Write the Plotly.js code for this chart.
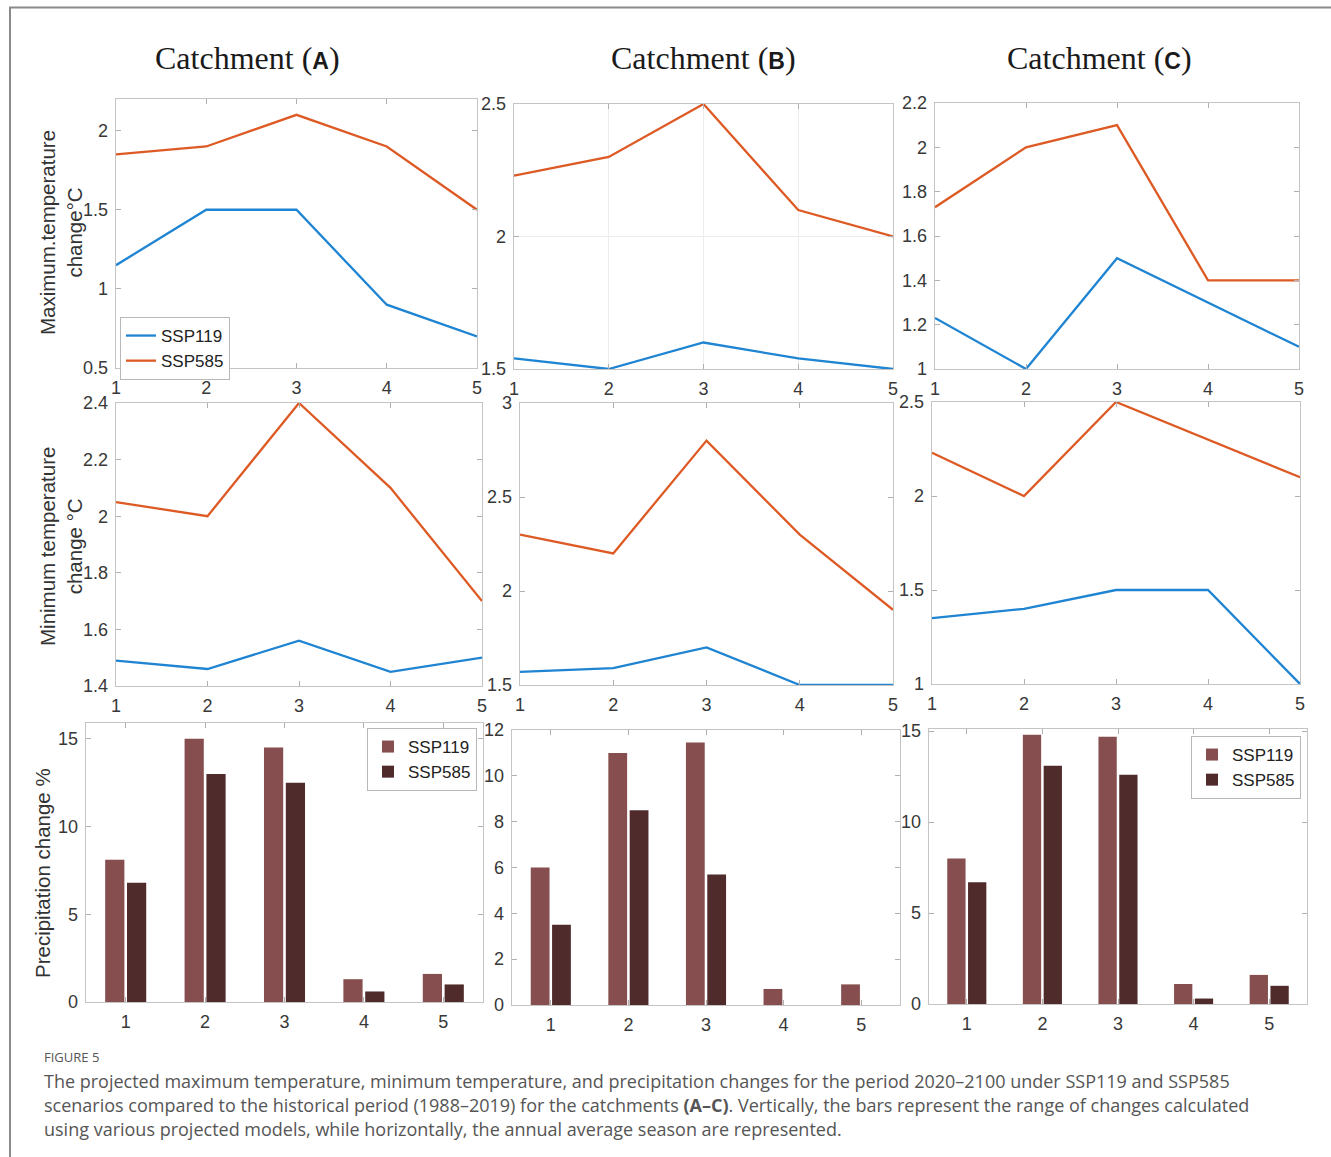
<!DOCTYPE html>
<html>
<head>
<meta charset="utf-8">
<script src="https://cdn.plot.ly/plotly-3.0.1.min.js"></script>
<style>html,body{margin:0;padding:0;background:#fff;}#chart{width:1331px;height:1157px;}</style>
</head>
<body>
<div id="chart"></div>
<script>
// ---------- data ----------
const seasons = [1, 2, 3, 4, 5];
const seriesNames = ['SSP119', 'SSP585'];
const catchmentTitles = ['A', 'B', 'C'];

// Maximum temperature change (°C)
const maxA_ssp119 = [1.15, 1.5, 1.5, 0.9, 0.7];
const maxA_ssp585 = [1.85, 1.9, 2.1, 1.9, 1.5];
const maxB_ssp119 = [1.54, 1.5, 1.6, 1.54, 1.5];
const maxB_ssp585 = [2.23, 2.3, 2.5, 2.1, 2.0];
const maxC_ssp119 = [1.23, 1.0, 1.5, 1.3, 1.1];
const maxC_ssp585 = [1.73, 2.0, 2.1, 1.4, 1.4];

// Minimum temperature change (°C)
const minA_ssp119 = [1.49, 1.46, 1.56, 1.45, 1.5];
const minA_ssp585 = [2.05, 2.0, 2.4, 2.1, 1.7];
const minB_ssp119 = [1.57, 1.59, 1.7, 1.5, 1.5];
const minB_ssp585 = [2.3, 2.2, 2.8, 2.3, 1.9];
const minC_ssp119 = [1.35, 1.4, 1.5, 1.5, 1.0];
const minC_ssp585 = [2.23, 2.0, 2.5, 2.3, 2.1];

// Precipitation change (%)
const prA_ssp119 = [8.1, 15.0, 14.5, 1.3, 1.6];
const prA_ssp585 = [6.8, 13.0, 12.5, 0.6, 1.0];
const prB_ssp119 = [6.0, 11.0, 11.45, 0.7, 0.9];
const prB_ssp585 = [3.5, 8.5, 5.7, 0, 0];
const prC_ssp119 = [8.0, 14.8, 14.7, 1.1, 1.6];
const prC_ssp585 = [6.7, 13.1, 12.6, 0.3, 1.0];

// tick labels
const ticksMaxA = [0.5, 1, 1.5, 2];
const ticksMaxB = [1.5, 2, 2.5];
const ticksMaxC = [1, 1.2, 1.4, 1.6, 1.8, 2, 2.2];
const ticksMinA = [1.4, 1.6, 1.8, 2, 2.2, 2.4];
const ticksMinB = [1.5, 2, 2.5, 3];
const ticksMinC = [1, 1.5, 2, 2.5];
const ticksPrA = [0, 5, 10, 15];
const ticksPrB = [0, 2, 4, 6, 8, 10, 12];
const ticksPrC = [0, 5, 10, 15];

// ---------- styling ----------
const W = 1331, H = 1157;
const blue = '#1f84d2', orange = '#dd5a24';
const barLight = '#864e4e', barDark = '#4f2b2b';
const axisGray = '#c4c4c4';
const tickFont = {family: 'Liberation Sans, Arial, sans-serif', size: 18, color: '#383838'};

// panel boxes in pixels [left, right, top, bottom]
const boxes = [
  [116, 477, 99, 368], [514, 893, 104, 369], [935, 1299, 103, 369],
  [116, 482, 403, 686], [520, 893, 403, 685], [932, 1300, 402, 684],
  [86, 483, 723, 1002], [512, 900, 730, 1005], [929, 1307, 729, 1004]
];
const yTicks = [ticksMaxA, ticksMaxB, ticksMaxC, ticksMinA, ticksMinB, ticksMinC, ticksPrA, ticksPrB, ticksPrC];
const yRanges = [[0.5, 2.2], [1.5, 2.5], [1, 2.2], [1.4, 2.4], [1.5, 3], [1, 2.5], [0, 15.9], [0, 12], [0, 15.12]];

const lineData = [
  [maxA_ssp119, maxA_ssp585], [maxB_ssp119, maxB_ssp585], [maxC_ssp119, maxC_ssp585],
  [minA_ssp119, minA_ssp585], [minB_ssp119, minB_ssp585], [minC_ssp119, minC_ssp585]
];
const barData = [[prA_ssp119, prA_ssp585], [prB_ssp119, prB_ssp585], [prC_ssp119, prC_ssp585]];

const traces = [];
lineData.forEach((pair, i) => {
  const n = i + 1;
  const sfx = n === 1 ? '' : String(n);
  [blue, orange].forEach((c, k) => {
    traces.push({
      type: 'scatter', mode: 'lines', x: seasons, y: pair[k], name: seriesNames[k],
      xaxis: 'x' + sfx, yaxis: 'y' + sfx,
      line: {color: c, width: 2.3},
      showlegend: i === 0, legend: 'legend'
    });
  });
});
const barLegends = ['legend2', null, 'legend3'];
barData.forEach((pair, j) => {
  const n = j + 7;
  [barLight, barDark].forEach((c, k) => {
    traces.push({
      type: 'bar', x: seasons, y: pair[k], name: seriesNames[k],
      xaxis: 'x' + n, yaxis: 'y' + n,
      marker: {color: c, line: {width: 0}},
      showlegend: barLegends[j] !== null,
      legend: barLegends[j] || 'legend'
    });
  });
});

const layout = {
  width: W, height: H,
  margin: {l: 0, r: 0, t: 0, b: 0},
  paper_bgcolor: '#fff', plot_bgcolor: '#fff',
  barmode: 'group', bargap: 0.45, bargroupgap: 0.12,
  showlegend: true,
  font: {family: 'Liberation Sans, Arial, sans-serif', color: '#333'},
  annotations: [], shapes: []
};

boxes.forEach((b, i) => {
  const n = i + 1;
  const sfx = n === 1 ? '' : String(n);
  const isBar = i >= 6;
  const grid = i === 1;
  const common = {
    showline: true, linecolor: axisGray, linewidth: 1.4, mirror: 'ticks',
    ticks: 'inside', ticklen: 5, tickwidth: 1, tickcolor: '#b0b0b0',
    tickfont: tickFont, zeroline: false, fixedrange: true,
    showgrid: grid, gridcolor: '#ececec', gridwidth: 1
  };
  layout['xaxis' + sfx] = Object.assign({}, common, {
    domain: [b[0] / W, b[1] / W],
    anchor: 'y' + sfx,
    range: isBar ? [0.5, 5.5] : [1, 5],
    tickvals: seasons, ticktext: seasons.map(String),
    ticklabelstandoff: 3
  });
  layout['yaxis' + sfx] = Object.assign({}, common, {
    domain: [1 - b[3] / H, 1 - b[2] / H],
    anchor: 'x' + sfx,
    range: yRanges[i],
    tickvals: yTicks[i], ticktext: yTicks[i].map(String),
    ticklabelstandoff: 3
  });
});

const legendCommon = {
  yanchor: 'top', bgcolor: '#fff',
  bordercolor: '#b8b8b8', borderwidth: 1,
  font: {family: 'Liberation Sans, Arial, sans-serif', size: 17, color: '#222'},
  itemwidth: 30, tracegroupgap: 0, traceorder: 'normal'
};
layout.legend = Object.assign({}, legendCommon, {xanchor: 'left', x: 120 / W, y: 1 - 317 / H});
layout.legend2 = Object.assign({}, legendCommon, {xanchor: 'right', x: 477 / W, y: 1 - 728 / H});
layout.legend3 = Object.assign({}, legendCommon, {xanchor: 'right', x: 1301 / W, y: 1 - 736 / H});

// column titles
const titleX = [247, 703, 1099];
catchmentTitles.forEach((t, i) => {
  layout.annotations.push({
    xref: 'paper', yref: 'paper', x: titleX[i] / W, y: 1 - 58 / H,
    xanchor: 'center', yanchor: 'middle', showarrow: false,
    text: 'Catchment (<b><span style="font-family:Liberation Sans, Arial, sans-serif;font-size:23px">' + t + '</span></b>)',
    font: {family: 'Liberation Serif, Times New Roman, serif', size: 32, color: '#1a1a1a'}
  });
});

// y-axis titles
const yTitles = [
  {text: 'Maximum.temperature<br>change°C', x: 61, y: 233},
  {text: 'Minimum temperature<br>change °C', x: 61, y: 547},
  {text: 'Precipitation change %', x: 42, y: 873}
];
yTitles.forEach(t => {
  layout.annotations.push({
    xref: 'paper', yref: 'paper', x: t.x / W, y: 1 - t.y / H,
    xanchor: 'center', yanchor: 'middle', showarrow: false, textangle: -90,
    text: t.text,
    font: {family: 'Liberation Sans, Arial, sans-serif', size: 20.5, color: '#333'}
  });
});

// caption
const captionFont = {family: 'Open Sans, Noto Sans, sans-serif', size: 18, color: '#555'};
layout.annotations.push({
  xref: 'paper', yref: 'paper', x: 42 / W, y: 1 - 1057 / H, xanchor: 'left', yanchor: 'middle',
  showarrow: false, text: 'FIGURE 5',
  font: {family: 'Open Sans, Noto Sans, sans-serif', size: 13, color: '#555'}
});
const captionLines = [
  'The projected maximum temperature, minimum temperature, and precipitation changes for the period 2020–2100 under SSP119 and SSP585',
  'scenarios compared to the historical period (1988–2019) for the catchments <b>(A–C)</b>. Vertically, the bars represent the range of changes calculated',
  'using various projected models, while horizontally, the annual average season are represented.'
];
const captionY = [1081, 1105, 1129];
captionLines.forEach((t, i) => {
  layout.annotations.push({
    xref: 'paper', yref: 'paper', x: 42 / W, y: 1 - captionY[i] / H, xanchor: 'left', yanchor: 'middle',
    showarrow: false, text: t, font: captionFont
  });
});

// outer frame
layout.shapes.push({
  type: 'rect', xref: 'paper', yref: 'paper',
  x0: 10 / W, x1: 1.02, y0: -0.02, y1: 1 - 7.5 / H,
  line: {color: '#8a8a8a', width: 2}, fillcolor: 'rgba(0,0,0,0)', layer: 'below'
});

Plotly.newPlot('chart', traces, layout, {displayModeBar: false, staticPlot: true});
</script>
</body>
</html>
